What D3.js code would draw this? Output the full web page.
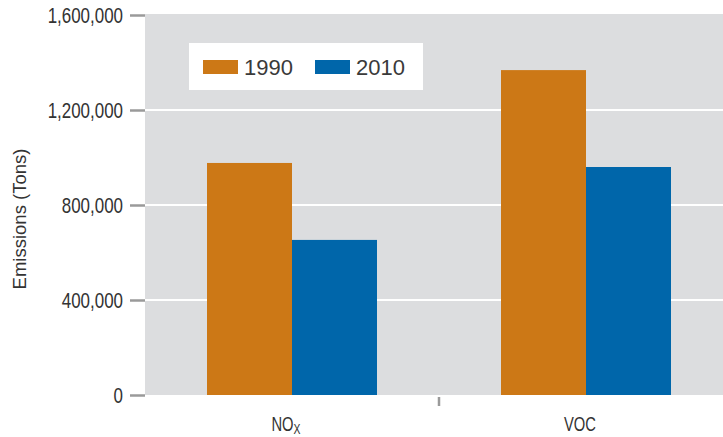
<!DOCTYPE html>
<html>
<head>
<meta charset="utf-8">
<script src="https://cdn.jsdelivr.net/npm/d3@7/dist/d3.min.js"></script>
<style>
  html, body { margin: 0; padding: 0; background: #fff; }
  svg { display: block; }
</style>
</head>
<body>
<svg id="chart" width="723" height="437"></svg>
<script>
// Emissions by pollutant, 1990 vs 2010
const pollutants = ["NOx", "VOC"];
const years = ["1990", "2010"];
const emissions1990 = [977000, 1368000];
const emissions2010 = [653000, 960000];
const yTicks = [0, 400000, 800000, 1200000, 1600000];
const yearColors = ["#cc7816", "#0066aa"];

const rows = pollutants.map((p, i) => ({
  pollutant: p,
  values: [emissions1990[i], emissions2010[i]]
}));

const svg = d3.select("#chart");
const margin = { left: 145, top: 15, bottom: 395 };
const plotRight = 733;

const x = d3.scaleBand().domain(pollutants).range([margin.left, plotRight]).paddingInner(0).paddingOuter(0);
const xSub = d3.scaleBand().domain(years).range([0, 170]);
const y = d3.scaleLinear().domain([0, 1600000]).range([margin.bottom, margin.top]);

const sans = "'Liberation Sans', Arial, sans-serif";

// plot background
svg.append("rect")
  .attr("x", margin.left).attr("y", y(1600000) - 1)
  .attr("width", 723 - margin.left).attr("height", y(0) - y(1600000) + 1)
  .attr("fill", "#dcdddf");

// horizontal gridlines
svg.append("g").selectAll("line")
  .data(yTicks.filter(t => t > 0 && t < 1600000))
  .join("line")
  .attr("x1", margin.left).attr("x2", 723)
  .attr("y1", d => y(d)).attr("y2", d => y(d))
  .attr("stroke", "#ffffff").attr("stroke-width", 2);

// bars
const groups = svg.append("g").selectAll("g")
  .data(rows)
  .join("g")
  .attr("transform", d => `translate(${x(d.pollutant) + (x.bandwidth() - 170) / 2},0)`);

groups.selectAll("rect")
  .data(d => d.values.map((v, i) => ({ year: years[i], value: v, i })))
  .join("rect")
  .attr("x", d => xSub(d.year))
  .attr("y", d => y(d.value))
  .attr("width", xSub.bandwidth())
  .attr("height", d => y(0) - y(d.value))
  .attr("fill", d => yearColors[d.i]);

// y axis (condensed labels)
const yAxis = svg.append("g")
  .attr("transform", `translate(${margin.left},0)`)
  .call(d3.axisLeft(y).tickValues(yTicks).tickFormat(d3.format(",")).tickSize(15).tickPadding(7));
yAxis.select(".domain").remove();
yAxis.selectAll(".tick line").attr("stroke", "#9a9a9a").attr("stroke-width", 2.5);
yAxis.selectAll(".tick text")
  .attr("x", 0)
  .attr("transform", "translate(-22,0) scale(0.77,1)")
  .attr("fill", "#333").attr("font-size", 22).attr("font-family", sans);

// x axis: separator tick between categories
const xAxis = svg.append("g");
xAxis.selectAll("line")
  .data(pollutants.slice(1))
  .join("line")
  .attr("x1", d => x(d)).attr("x2", d => x(d))
  .attr("y1", y(0) + 2).attr("y2", y(0) + 11)
  .attr("stroke", "#9a9a9a").attr("stroke-width", 2.5);

const xLabels = xAxis.selectAll("text")
  .data(pollutants)
  .join("text")
  .attr("transform", d => `translate(${x(d) + x.bandwidth() / 2 - 6},431) scale(0.72,1)`)
  .attr("text-anchor", "middle")
  .attr("font-family", sans)
  .attr("font-size", 20.5)
  .attr("fill", "#333");
xLabels.each(function(d) {
  const t = d3.select(this);
  if (d === "NOx") {
    t.append("tspan").text("NO");
    t.append("tspan").attr("font-size", 14.5).attr("dy", 2.5).text("X");
  } else {
    t.text(d);
  }
});

// y axis title
svg.append("text")
  .attr("transform", "translate(26,219) rotate(-90)")
  .attr("text-anchor", "middle")
  .attr("font-family", sans)
  .attr("font-size", 18.5)
  .attr("fill", "#333")
  .text("Emissions (Tons)");

// legend
const legend = svg.append("g").attr("transform", "translate(189,43)");
legend.append("rect").attr("width", 234).attr("height", 47).attr("fill", "#ffffff");
const items = legend.selectAll("g.item")
  .data(years)
  .join("g")
  .attr("class", "item")
  .attr("transform", (d, i) => `translate(${14 + i * 112},17)`);
items.append("rect").attr("width", 35).attr("height", 14).attr("fill", (d, i) => yearColors[i]);
items.append("text")
  .attr("x", 41).attr("y", 14.5)
  .attr("font-family", sans)
  .attr("font-size", 22)
  .attr("fill", "#3a3a3a")
  .text(d => d);
</script>
</body>
</html>
